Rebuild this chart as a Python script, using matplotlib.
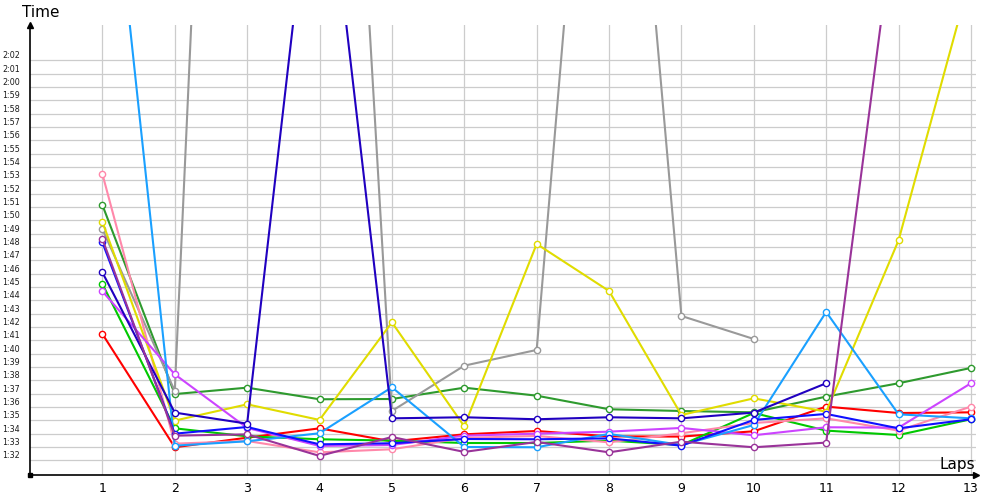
import numpy as np
import matplotlib
matplotlib.use('Agg')
import matplotlib.pyplot as plt

nan = np.nan
laps = np.arange(1, 14)

# lap times in seconds
red = [101.48, 92.98, 93.7, 94.4, 93.42, 93.95, 94.2, 93.8, 93.78, 94.18, 96.03, 95.55, 95.6]
green = [105.23, 94.4, 93.8, 93.58, 93.48, 93.3, 93.3, 93.48, 93.15, 95.55, 94.23, 93.9, 95.08]
dark_green = [111.15, 96.97, 97.45, 96.58, 96.6, 97.45, 96.85, 95.83, 95.7, 95.6, 96.78, 97.78, 98.93]
blue = [108.35, 94.0, 94.5, 93.2, 93.28, 93.6, 93.58, 93.65, 93.1, 95.03, 95.48, 94.4, 95.08]
dark_blue = [106.1, 95.58, 94.75, 142.0, 95.15, 95.23, 95.08, 95.23, 95.15, 95.58, 97.78, nan, nan]
light_blue = [143.9, 93.1, 93.43, 94.03, 97.48, 93.0, 92.98, 93.98, 93.15, 94.65, 103.13, 95.45, 95.15]
yellow = [109.88, 94.98, 96.2, 95.03, 102.35, 94.55, 108.23, 104.7, 95.4, 96.65, 95.65, 108.5, 128.4]
gray = [109.35, 97.2, 218.0, 189.0, 95.7, 99.1, 100.28, 164.7, 102.83, 101.1, nan, nan, nan]
pink = [113.48, 93.25, 93.45, 92.6, 92.83, 93.68, 93.83, 93.35, 94.03, 94.8, 95.15, 94.23, 96.03]
magenta = [104.68, 98.45, 94.43, 93.08, 93.15, 93.85, 94.0, 94.15, 94.43, 93.88, 94.48, 94.45, 97.78]
purple = [108.6, 93.85, 93.95, 92.33, 93.75, 92.63, 93.38, 92.6, 93.4, 92.98, 93.33, 134.95, nan]

series = [
    (red, '#ff0000'),
    (green, '#00c800'),
    (dark_green, '#2e9a2e'),
    (gray, '#999999'),
    (pink, '#ff88aa'),
    (yellow, '#e0dc00'),
    (magenta, '#cc44ff'),
    (light_blue, '#1aa0ff'),
    (blue, '#1010ff'),
    (dark_blue, '#2000c0'),
    (purple, '#993399'),
]

yticks = np.arange(92, 123)
ylabels = ['%d:%02d' % (t // 60, t % 60) for t in yticks]

fig = plt.figure(figsize=(10, 5), dpi=100)
ax = fig.add_axes([0.03, 0.05, 0.946, 0.90])

for vals, col in series:
    ax.plot(laps, vals, color=col, lw=1.5, marker='o', ms=4.5,
            mfc='white', mec=col, mew=1.0, zorder=3)

ax.set_xlim(0, 13.07)
ax.set_ylim(90.9, 124.65)
ax.set_xticks(laps)
ax.set_yticks(yticks)
ax.set_yticklabels(ylabels, fontsize=5.8, color='#1a1a1a')
for lbl in ax.get_yticklabels():
    lbl.set_va('bottom')
ax.tick_params(axis='y', length=0, pad=7)
ax.tick_params(axis='x', length=0, pad=5, labelsize=9)
ax.grid(True, color='#cccccc', lw=0.9, zorder=0)
ax.set_axisbelow(True)

for s in ['top', 'right']:
    ax.spines[s].set_visible(False)
for s in ['left', 'bottom']:
    ax.spines[s].set_color('black')
    ax.spines[s].set_linewidth(1.2)

# axis arrows
ax.plot(0, 1, '^', color='black', ms=5, transform=ax.transAxes, clip_on=False)
ax.plot(1, 0, '>', color='black', ms=5, transform=ax.transAxes, clip_on=False)
ax.plot(0, 0, 's', color='black', ms=3, transform=ax.transAxes, clip_on=False)

fig.text(0.022, 0.975, 'Time', fontsize=11, va='center', ha='left')
fig.text(0.975, 0.07, 'Laps', fontsize=11, va='center', ha='right')

fig.savefig('out.png', dpi=100)
